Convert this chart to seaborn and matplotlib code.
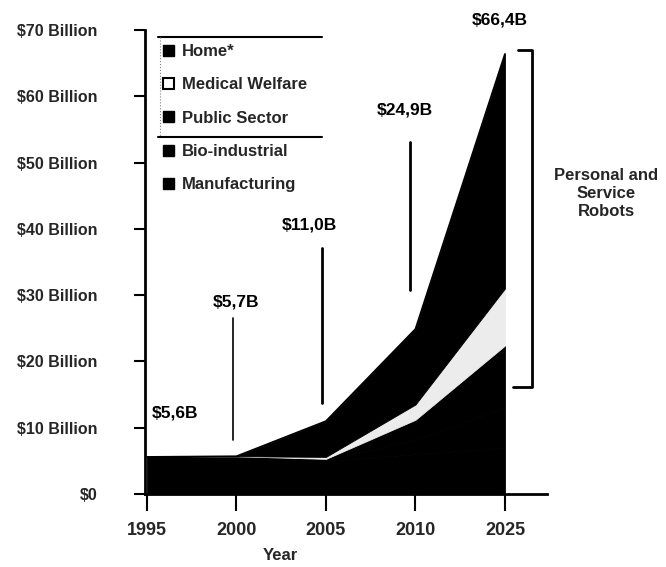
import matplotlib
matplotlib.use("Agg")
import matplotlib.pyplot as plt
import seaborn as sns
import pandas as pd
from matplotlib.patches import Patch
from matplotlib.lines import Line2D

# ---- data ----
years = ["1995", "2000", "2005", "2010", "2025"]
manufacturing = [5.6, 5.7, 5.0, 6.0, 7.0]
bio_industrial = [0.0, 0.0, 0.1, 2.2, 6.0]
public_sector = [0.0, 0.0, 0.2, 3.0, 9.4]
medical_welfare = [0.0, 0.0, 0.3, 2.3, 8.6]
home = [0.0, 0.0, 5.4, 11.4, 35.4]
total_labels = ["$5,6B", "$5,7B", "$11,0B", "$24,9B", "$66,4B"]
y_ticks = [0, 10, 20, 30, 40, 50, 60, 70]
y_tick_labels = ["$0", "$10 Billion", "$20 Billion", "$30 Billion",
                 "$40 Billion", "$50 Billion", "$60 Billion", "$70 Billion"]
legend_labels = ["Home*", "Medical Welfare", "Public Sector", "Bio-industrial", "Manufacturing"]

sns.set_theme(style="ticks")
plt.rcParams["font.family"] = ["Liberation Sans", "DejaVu Sans"]
plt.rcParams["font.weight"] = "bold"

df = pd.DataFrame({
    "year": years,
    "Manufacturing": manufacturing,
    "Bio-industrial": bio_industrial,
    "Public Sector": public_sector,
    "Medical Welfare": medical_welfare,
    "Home*": home,
})
df["x"] = range(len(years))
df["total"] = df[["Manufacturing", "Bio-industrial", "Public Sector",
                  "Medical Welfare", "Home*"]].sum(axis=1)

W, H = 666, 567
fig = plt.figure(figsize=(W / 100, H / 100), dpi=100)
ax = fig.add_axes([145 / W, 73 / H, (547 - 145) / W, (494 - 30) / H])

dark = "#000000"
light = "#ececec"
layer_colors = [dark, dark, dark, light, dark]
polys = ax.stackplot(df["x"], df["Manufacturing"], df["Bio-industrial"], df["Public Sector"],
                     df["Medical Welfare"], df["Home*"], colors=layer_colors)
for p, c in zip(polys, layer_colors):
    p.set_edgecolor(c)
    p.set_linewidth(0.6)
sns.lineplot(data=df, x="x", y="total", color=dark, linewidth=1.2, ax=ax, legend=False)

ax.set_xlim(-0.022, 4.47)
ax.set_ylim(0, 70)
ax.set_xticks(df["x"])
ax.set_xticklabels(years, fontsize=13, fontweight="bold")
ax.set_yticks(y_ticks)
ax.set_yticklabels(y_tick_labels, fontsize=11.5, fontweight="bold")
ax.tick_params(axis="y", direction="out", length=8, width=1.5, pad=26, color="black")
ax.tick_params(axis="x", direction="out", length=12, width=1.5, pad=8, color="black")
for s in ["top", "right"]:
    ax.spines[s].set_visible(False)
for s in ["left", "bottom"]:
    ax.spines[s].set_linewidth(2)
    ax.spines[s].set_color("black")
ax.set_xlabel("")
ax.set_ylabel("")
fig.text(280 / W, 1 - 556 / H, "Year", ha="center", va="center", fontsize=12, fontweight="bold")

# total annotations
lab_kw = dict(fontsize=12.5, fontweight="bold", color="black", va="center")
ax.text(0.056, 12.2, total_labels[0], ha="left", **lab_kw)
ax.text(1.0, 29.0, total_labels[1], ha="center", **lab_kw)
ax.text(1.82, 40.6, total_labels[2], ha="center", **lab_kw)
ax.text(2.88, 57.9, total_labels[3], ha="center", **lab_kw)
ax.text(3.94, 71.5, total_labels[4], ha="center", clip_on=False, **lab_kw)

ax.plot([0.96, 0.96], [26.5, 8.1], color="black", lw=1.2)
ax.plot([1.955, 1.955], [37.1, 13.7], color="black", lw=2)
ax.plot([2.94, 2.94], [53.1, 30.8], color="black", lw=2)

# bracket for personal and service robots
ax.plot([4.15, 4.30, 4.30, 4.09], [67.0, 67.0, 16.1, 16.1], color="black", lw=2, clip_on=False)
ax.text(5.13, 45.4, "Personal and\nService\nRobots", ha="center", va="center",
        fontsize=12, fontweight="bold", linespacing=1.25, clip_on=False)

# legend
handles = [
    Patch(facecolor=dark, edgecolor=dark),
    Patch(facecolor="white", edgecolor=dark, linewidth=1.5),
    Patch(facecolor=dark, edgecolor=dark),
    Patch(facecolor=dark, edgecolor=dark),
    Patch(facecolor=dark, edgecolor=dark),
]
leg = fig.legend(handles, legend_labels, loc="upper left",
                 bbox_to_anchor=(163 / W, 1 - 44 / H), frameon=False,
                 prop={"size": 12, "weight": "bold"}, handlelength=0.65, handleheight=0.65,
                 handletextpad=0.5, labelspacing=1.1, borderpad=0, borderaxespad=0)
fig.add_artist(Line2D([158 / W, 322 / W], [1 - 37 / H, 1 - 37 / H], color="black", lw=1.5))
fig.add_artist(Line2D([158 / W, 322 / W], [1 - 137 / H, 1 - 137 / H], color="black", lw=1.5))
fig.add_artist(Line2D([160 / W, 160 / W], [1 - 37 / H, 1 - 137 / H], color="gray", lw=0.8, ls=":"))

fig.savefig("out.png", dpi=100, facecolor="white")
